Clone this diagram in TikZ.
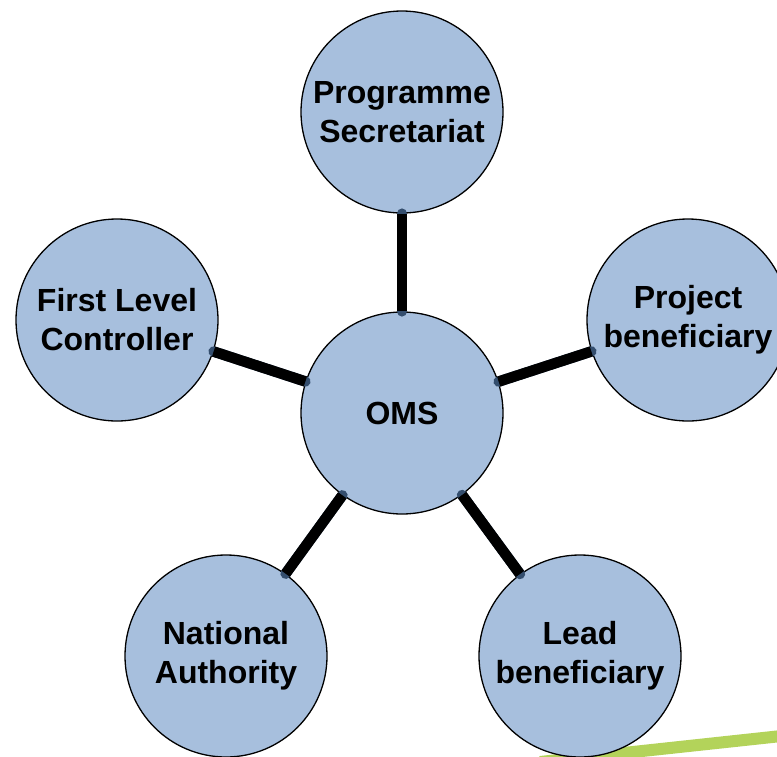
\documentclass[tikz,border=0pt]{standalone}
\usepackage{fontspec}
\setmainfont{Liberation Sans}
\definecolor{bubble}{RGB}{167,191,221}
\definecolor{capblue}{RGB}{52,78,110}
\definecolor{leaf}{RGB}{179,211,90}
\begin{document}
\begin{tikzpicture}[x=1pt,y=-1pt,
  bubble/.style={circle,draw=black,line width=1.3pt,fill=bubble,minimum size=202pt,inner sep=0pt,
    align=center,font=\fontsize{32}{39}\selectfont\bfseries},
  linkcap/.style={line width=10.5pt,line cap=round,draw=capblue},
  linkbar/.style={line width=10.5pt,line cap=butt,draw=black}]
\useasboundingbox (0,0) rectangle (777,756);
\clip (0,0) rectangle (777,756);
\draw[leaf,line width=12pt] (540,762) -- (800,734);
\node[bubble] (oms) at (402,413) {OMS};
\node[bubble] (ps) at (402,112) {Programme\\Secretariat};
\node[bubble] (flc) at (117,320) {First Level\\Controller};
\node[bubble] (pb) at (688,320) {Project\\beneficiary};
\node[bubble] (na) at (226,656) {National\\Authority};
\node[bubble] (lb) at (580,656) {Lead\\beneficiary};
\foreach \n in {ps,flc,pb,na,lb}{
  \draw[linkcap] (oms) -- (\n);
  \draw[linkbar] (oms) -- (\n);
}
\end{tikzpicture}
\end{document}
